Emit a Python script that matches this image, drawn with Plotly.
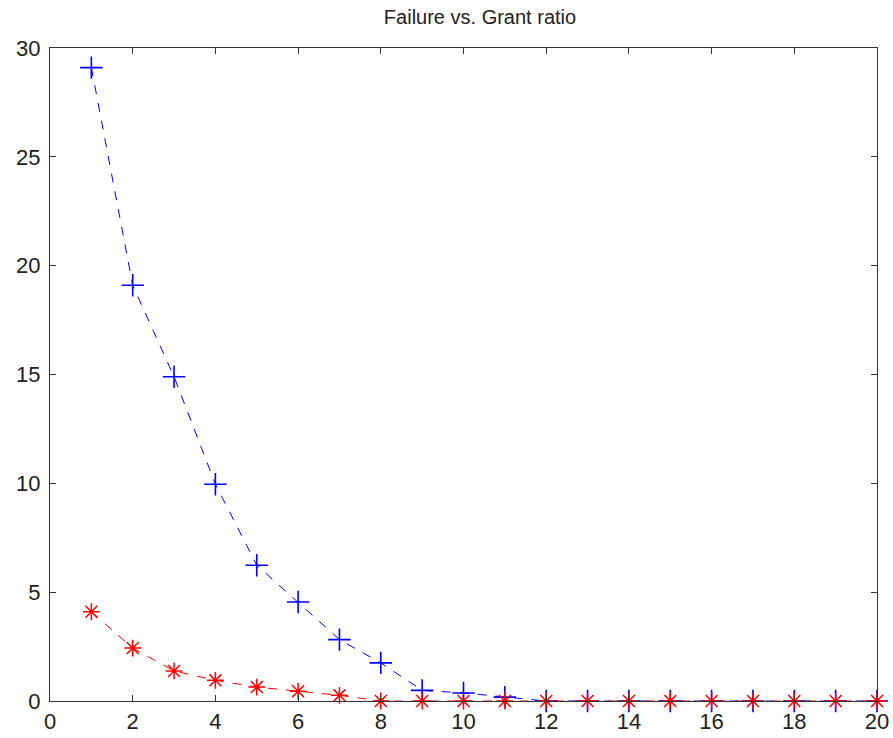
import plotly.graph_objects as go

# Grant ratio (x) and the two failure curves
ratio = list(range(1, 21))
failure_blue = [29.1, 19.1, 14.9, 9.96, 6.24, 4.55, 2.82, 1.75, 0.49, 0.37,
                0.18, 0, 0, 0, 0, 0, 0, 0, 0, 0]
failure_red = [4.1, 2.43, 1.38, 0.95, 0.64, 0.45, 0.26, 0, 0, 0,
               0, 0, 0, 0, 0, 0, 0, 0, 0, 0]

x_ticks = list(range(0, 21, 2))
y_ticks = list(range(0, 31, 5))

fig = go.Figure()
fig.add_trace(go.Scatter(
    x=ratio, y=failure_blue, mode="lines+markers",
    line=dict(color="#0000ff", width=1, dash="dash"),
    marker=dict(symbol="cross-thin", size=16, line=dict(color="#0000ff", width=1.6)),
    cliponaxis=False, showlegend=False,
))
fig.add_trace(go.Scatter(
    x=ratio, y=failure_red, mode="lines+markers",
    line=dict(color="#ff0000", width=1, dash="dash"),
    marker=dict(symbol="asterisk-open", size=14, line=dict(color="#ff0000", width=1.5)),
    cliponaxis=False, showlegend=False,
))

axis_style = dict(
    showline=True, linecolor="#333333", linewidth=1.3, mirror="ticks",
    ticks="inside", ticklen=6, tickwidth=1.3, tickcolor="#333333",
    showgrid=False, zeroline=False, automargin=False,
    tickfont=dict(family="Liberation Sans, Arial, sans-serif", size=22, color="#222222"),
)

fig.update_layout(
    width=893, height=738,
    margin=dict(l=50, r=16, t=48, b=37),
    paper_bgcolor="white", plot_bgcolor="white",
    title=dict(text="Failure vs. Grant ratio", x=480 / 893, xanchor="center",
               y=0.987, yanchor="top", automargin=False,
               font=dict(family="Liberation Sans, Arial, sans-serif", size=20, color="#222222")),
    xaxis=dict(range=[0, 20], tickvals=x_ticks, ticklabelstandoff=0, **axis_style),
    yaxis=dict(range=[0, 30], tickvals=y_ticks, ticklabelstandoff=4, **axis_style),
)

fig.write_html("out.html")
